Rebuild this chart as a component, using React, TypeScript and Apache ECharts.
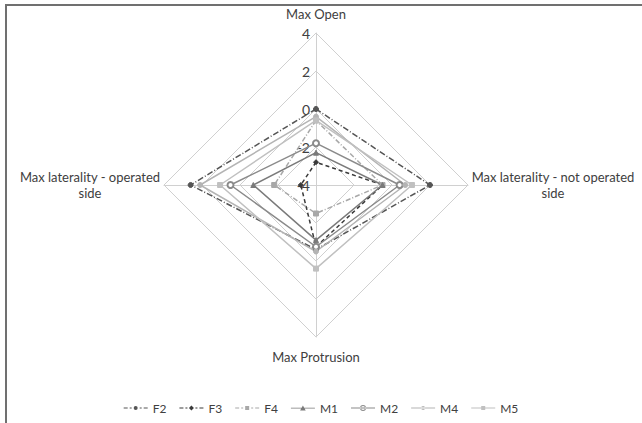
import React, { useEffect, useRef } from "react";
import * as echarts from "echarts";

const indicators = [
  "Max Open",
  "Max laterality - operated side",
  "Max Protrusion",
  "Max laterality - not operated side",
];
// values in order: Open, operated (left), Protrusion, not operated (right)
const seriesNames = ["F2", "F3", "F4", "M1", "M2", "M4", "M5"];
const F2 = [0, 2.6, -0.6, 2.0];
const F3 = [-2.8, -3.2, -0.75, -0.5];
const F4 = [-0.6, -1.8, -2.5, -0.5];
const M1 = [-2.3, -0.7, -1.1, -0.5];
const M2 = [-1.8, 0.5, -0.75, 0.4];
const M4 = [-0.4, 2.1, -0.5, 0.7];
const M5 = [-0.6, 1.05, 0.4, 1.05];
const seriesValues = [F2, F3, F4, M1, M2, M4, M5];
const axisMin = -4;
const axisMax = 4;

const colors = ["#555555", "#3a3a3a", "#a8a8a8", "#7a7a7a", "#8a8a8a", "#b4b4b4", "#c0c0c0"];
const lineTypes: any[] = [[6, 2, 1, 2], [4, 3], [5, 2, 1, 2], "solid", "solid", "solid", "solid"];
const symbols = ["circle", "diamond", "rect", "triangle", "emptyCircle", "circle", "rect"];

const dashLine = "M0,3.6h4v0.9H0z M6,3.6h2v0.9H6z M16,3.6h2v0.9h-2z M20,3.6h4v0.9h-4z";
const solidLine = "M0,3.6h24v0.9H0z";
const mk: Record<string, string> = {
  circle: "M10,4a2,2 0 1,0 4,0a2,2 0 1,0 -4,0z",
  diamond: "M12,1.5L14.5,4L12,6.5L9.5,4z",
  rect: "M10,2h4v4h-4z",
  triangle: "M12,1.5L14.8,6.3H9.2z",
  emptyCircle: "M9,4a3,3 0 1,0 6,0a3,3 0 1,0 -6,0z M10,4a2,2 0 1,1 4,0a2,2 0 1,1 -4,0z",
};

export default function App() {
  const ref = useRef<HTMLDivElement>(null);
  useEffect(() => {
    if (!ref.current) return;
    const chart = echarts.init(ref.current, null, { renderer: "svg" });
    const font = "Lato, 'Open Sans', sans-serif";
    const base = { fontSize: 13, fontFamily: font, color: "#404040", lineHeight: 16 };
    chart.setOption({
      animation: false,
      backgroundColor: "#ffffff",
      textStyle: { fontFamily: font },
      graphic: [
        { type: "line", shape: { x1: 6, y1: 5, x2: 6, y2: 423 }, style: { stroke: "#707070", lineWidth: 2 } },
        { type: "line", shape: { x1: 5, y1: 5, x2: 642, y2: 5 }, style: { stroke: "#707070", lineWidth: 2 } },
      ],
      legend: {
        left: "center",
        top: 397,
        itemWidth: 24,
        itemHeight: 10,
        itemGap: 13,
        textStyle: { fontSize: 12, color: "#404040", fontFamily: font },
        data: seriesNames.map((n, i) => ({
          name: n,
          icon: "path://" + (i < 3 ? dashLine : solidLine) + " " + mk[symbols[i]],
          itemStyle: { color: colors[i] },
        })),
      },
      radar: {
        center: [316, 185],
        radius: 152,
        shape: "polygon",
        splitNumber: 4,
        nameGap: 3,
        axisName: {
          color: "#404040",
          fontSize: 13,
          fontFamily: font,
          formatter: (name: string) => {
            if (name === "Max laterality - operated side") return "{l|Max laterality - operated}\n{l|side}";
            if (name === "Max laterality - not operated side") return "{r|Max laterality - not operated}\n{r|side}";
            if (name === "Max Open") return "{t|" + name + "}";
            return "{b|" + name + "}";
          },
          rich: {
            l: { ...base, width: 142, align: "center" },
            r: { ...base, width: 164, align: "center" },
            t: { ...base, padding: [0, 0, 6, 0] },
            b: { ...base, padding: [17, 0, 0, 0] },
          },
        },
        splitLine: { lineStyle: { color: "#d0d0d0", width: 1 } },
        axisLine: { lineStyle: { color: "#d0d0d0", width: 1 } },
        splitArea: { show: false },
        indicator: indicators.map((name, i) => ({
          name,
          min: axisMin,
          max: axisMax,
          ...(i === 0
            ? { axisLabel: { show: true, fontSize: 14, color: "#404040", fontFamily: font, margin: 6 } }
            : {}),
        })),
      },
      series: [
        {
          type: "radar",
          data: seriesValues.map((v, i) => ({
            name: seriesNames[i],
            value: v,
            symbol: symbols[i],
            symbolSize: symbols[i] === "emptyCircle" ? 6 : 5,
            lineStyle: { color: colors[i], width: 1.5, type: lineTypes[i] },
            itemStyle: { color: colors[i], borderColor: colors[i] },
          })),
        },
      ],
    });
    return () => chart.dispose();
  }, []);
  return <div ref={ref} style={{ position: "fixed", left: 0, top: 0, width: 642, height: 423 }} />;
}
